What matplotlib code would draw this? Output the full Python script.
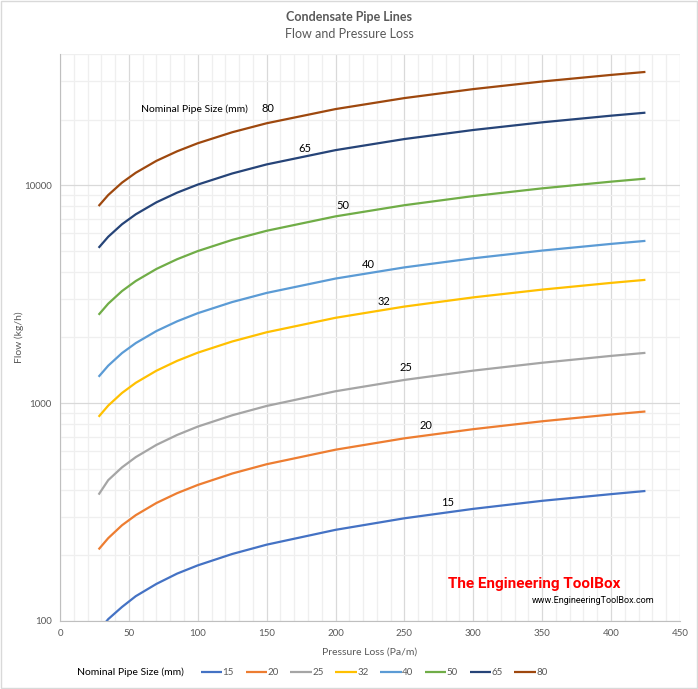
import matplotlib
matplotlib.use("Agg")
import matplotlib.pyplot as plt
from matplotlib.ticker import FixedLocator, NullFormatter, FuncFormatter
from matplotlib.patches import Rectangle

plt.rcParams['font.family'] = ['Lato', 'DejaVu Sans']

# pressure loss (Pa/m)
pressure = [28, 35, 45, 55, 70, 85, 100, 125, 150, 200, 250, 300, 350, 400, 425]

# flow (kg/h) per nominal pipe size
flow_15 = [90, 102, 116, 130, 148, 165, 180, 203, 224, 262, 296, 327, 356, 382, 395]
flow_20 = [213, 240, 275, 306, 348, 386, 421, 475, 524, 611, 689, 759, 825, 886, 915]
flow_25 = [380, 443, 507, 565, 643, 714, 780, 879, 970, 1133, 1277, 1409, 1531, 1646, 1700]
flow_32 = [865, 974, 1113, 1239, 1408, 1562, 1703, 1917, 2113, 2462, 2772, 3055, 3316, 3560, 3677]
flow_40 = [1320, 1485, 1696, 1885, 2141, 2372, 2585, 2908, 3202, 3727, 4194, 4617, 5009, 5375, 5550]
flow_50 = [2541, 2859, 3266, 3632, 4126, 4572, 4983, 5607, 6175, 7190, 8090, 8910, 9666, 10375, 10712]
flow_65 = [5157, 5798, 6616, 7350, 8343, 9238, 10061, 11312, 12449, 14477, 16277, 17911, 19420, 20832, 21505]
flow_80 = [8020, 9010, 10270, 11400, 12930, 14300, 15570, 17490, 19230, 22340, 25090, 27590, 29900, 32050, 33080]

sizes = ['15', '20', '25', '32', '40', '50', '65', '80']
flows = [flow_15, flow_20, flow_25, flow_32, flow_40, flow_50, flow_65, flow_80]
colors = ['#4472C4', '#ED7D31', '#A5A5A5', '#FFC000', '#5B9BD5', '#70AD47', '#264478', '#9E480E']

# in-plot labels (x, y) for each size
label_x = [281, 266, 251, 235, 224, 205, 178, 151]
label_y = [351, 789, 1455, 2925, 4306, 8040, 14680, 22400]

txt = '#595959'

fig = plt.figure(figsize=(6.98, 6.89), dpi=100)
fig.patches.append(Rectangle((0.002, 0.002), 0.996, 0.996, transform=fig.transFigure,
                             fill=False, edgecolor='#d9d9d9', lw=1))
ax = fig.add_axes([0.086, 0.0987, 0.888, 0.823])

lines = []
for s, f, c in zip(sizes, flows, colors):
    ln, = ax.plot(pressure, f, color=c, lw=1.6, label=s, solid_capstyle='butt')
    lines.append(ln)

for s, x, y in zip(sizes, label_x, label_y):
    ax.text(x, y, s, fontsize=8, ha='center', va='center', color='black')
ax.text(59, 22400, 'Nominal Pipe Size (mm)', fontsize=7.5, ha='left', va='center', color='black')

ax.set_yscale('log')
ax.set_xlim(0, 450)
ax.set_ylim(100, 40000)

ax.xaxis.set_major_locator(FixedLocator(range(0, 451, 50)))
ax.xaxis.set_minor_locator(FixedLocator(range(0, 451, 10)))
ax.yaxis.set_major_locator(FixedLocator([100, 1000, 10000]))
minor_y = [m * d for d in (100, 1000, 10000) for m in range(2, 10) if m * d <= 40000]
ax.yaxis.set_minor_locator(FixedLocator(minor_y))
ax.yaxis.set_major_formatter(FuncFormatter(lambda v, p: '%d' % v))
ax.yaxis.set_minor_formatter(NullFormatter())

ax.grid(True, which='major', color='#d9d9d9', lw=0.9)
ax.grid(True, which='minor', color='#efefef', lw=0.9)
ax.set_axisbelow(True)
ax.tick_params(which='both', length=0, labelsize=7, labelcolor=txt, pad=6)
for side in ['top', 'right']:
    ax.spines[side].set_visible(False)
for side in ['left', 'bottom']:
    ax.spines[side].set_color('#bfbfbf')

ax.set_xlabel('Pressure Loss (Pa/m)', fontsize=7.5, color=txt, labelpad=7)
ax.set_ylabel('Flow (kg/h)', fontsize=7.5, color=txt)
ax.yaxis.set_label_coords(-0.058, 0.5)

fig.text(0.5, 0.976, 'Condensate Pipe Lines', ha='center', va='center',
         fontsize=9, fontweight='bold', color=txt)
fig.text(0.5, 0.951, 'Flow and Pressure Loss', ha='center', va='center',
         fontsize=9, color=txt)

# watermark
fig.text(0.642, 0.152, 'The Engineering ToolBox', ha='left', va='center', fontsize=11,
         fontweight='bold', color='#ff0000', family=['Roboto', 'DejaVu Sans'])
fig.text(0.938, 0.128, 'www.EngineeringToolBox.com', ha='right', va='center', fontsize=6.5,
         color='black', family=['Roboto', 'DejaVu Sans'])

fig.text(0.11, 0.024, 'Nominal Pipe Size (mm)', ha='left', va='center', fontsize=7.5, color='black')
fig.legend(handles=lines, loc='center left', bbox_to_anchor=(0.275, 0.024), ncol=8,
           frameon=False, fontsize=7, handlelength=2.2, handletextpad=0.05,
           columnspacing=1.2, labelcolor=txt)

fig.savefig('out.png', dpi=100)
